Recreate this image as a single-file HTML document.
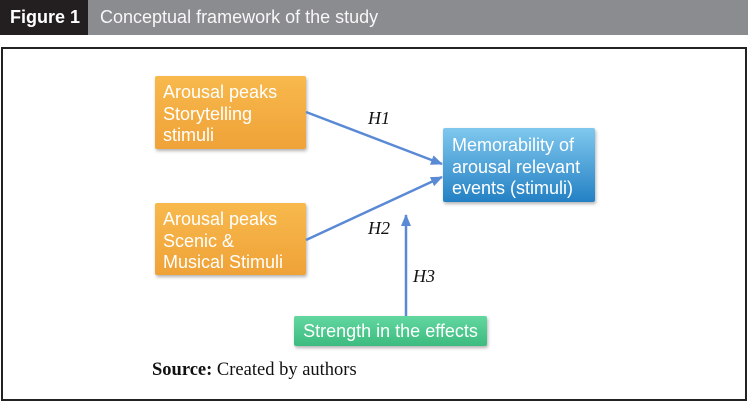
<!DOCTYPE html>
<html><head><meta charset="utf-8"><style>
html,body{margin:0;padding:0;background:#fff;}
body{width:748px;height:402px;position:relative;overflow:hidden;font-family:"Liberation Sans",Arial,sans-serif;}
.hdr{position:absolute;left:0;top:0;width:748px;height:35px;background:#8b8c90;}
.fig{position:absolute;left:0;top:0;width:88px;height:35px;background:#231f20;color:#fff;font-weight:bold;font-size:18px;line-height:35px;text-indent:10px;}
.ttl{position:absolute;left:100px;top:0;height:35px;line-height:35px;color:#f7f7f7;font-size:18px;}
.frame{position:absolute;left:1px;top:47px;width:742px;height:350px;border:2px solid #222;}
.box{position:absolute;color:#fff;font-size:18px;line-height:21.5px;box-sizing:border-box;border-radius:2px;box-shadow:1px 2px 3px rgba(0,0,0,0.3);}
.or{background:linear-gradient(#f8b94c,#efa238);padding:6px 0 0 8px;}
.bl{background:linear-gradient(#80c8ee,#2481c4);padding:7px 0 0 9px;}
.gr{background:linear-gradient(#62d7a0,#3dbb7f);text-align:center;line-height:30px;}
.lbl{position:absolute;font-family:"Liberation Serif","Times New Roman",serif;font-style:italic;font-size:18px;color:#111;}
.src{position:absolute;left:152px;top:360px;font-family:"Liberation Serif","Times New Roman",serif;font-size:18.5px;color:#111;}
svg{position:absolute;left:0;top:0;}
</style></head><body>
<div class="hdr"></div>
<div class="fig">Figure 1</div>
<div class="ttl">Conceptual framework of the study</div>
<div class="frame"></div>

<div class="box or" style="left:155px;top:76px;width:151px;height:73px;">Arousal peaks<br>Storytelling<br>stimuli</div>
<div class="box or" style="left:155px;top:203px;width:151px;height:72px;">Arousal peaks<br>Scenic &amp;<br>Musical Stimuli</div>
<div class="box bl" style="left:443px;top:128px;width:152px;height:74px;">Memorability of<br>arousal relevant<br>events (stimuli)</div>
<div class="box gr" style="left:294px;top:316px;width:193px;height:30px;">Strength in the effects</div>

<svg width="748" height="402" viewBox="0 0 748 402">
<defs><marker id="ah" markerWidth="12" markerHeight="10" refX="11" refY="5" orient="auto" markerUnits="userSpaceOnUse"><path d="M0,0 L12,5 L0,10 z" fill="#5a8ad6"/></marker></defs>
<line x1="306" y1="112" x2="442" y2="164" stroke="#5a8ad6" stroke-width="2.5" marker-end="url(#ah)"/>
<line x1="306" y1="240" x2="442" y2="177" stroke="#5a8ad6" stroke-width="2.5" marker-end="url(#ah)"/>
<line x1="406" y1="316" x2="406" y2="215" stroke="#5a8ad6" stroke-width="2.5" marker-end="url(#ah)"/>
</svg>

<div class="lbl" style="left:368px;top:108px;">H1</div>
<div class="lbl" style="left:368px;top:218px;">H2</div>
<div class="lbl" style="left:413px;top:266px;">H3</div>

<div class="src"><b>Source:</b> Created by authors</div>
</body></html>
